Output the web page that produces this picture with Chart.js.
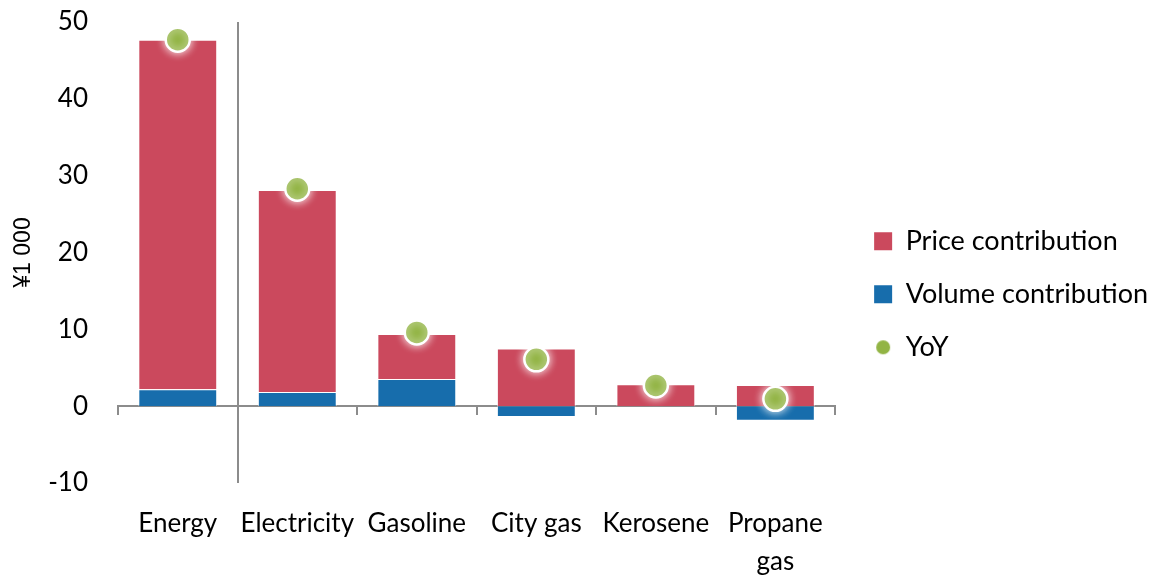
<!DOCTYPE html>
<html><head><meta charset="utf-8">
<script src="https://cdn.jsdelivr.net/npm/chart.js@4.4.1/dist/chart.umd.min.js"></script>
<style>html,body{margin:0;padding:0;background:#fff}#wrap{width:1158px;height:579px;position:relative}</style>
</head><body><div id="wrap"><canvas id="c"></canvas></div>
<script>
const categories = ['Energy', 'Electricity', 'Gasoline', 'City gas', 'Kerosene', ['Propane', 'gas']];
const volumeContribution = [2.2, 1.85, 3.55, -1.4, 0, -1.9];
const priceContribution = [45.5, 26.3, 5.85, 7.5, 2.86, 2.75];
const yoy = [47.7, 28.3, 9.6, 6.1, 2.7, 0.95];
const yTicks = [-10, 0, 10, 20, 30, 40, 50];
const seriesNames = ['Volume contribution', 'Price contribution', 'YoY'];
const legendOrder = [1, 0, 2];
const yTitle = '¥1 000';

const RED = 'rgb(203,73,93)', BLUE = 'rgb(23,109,172)', GREEN = 'rgb(146,180,68)', GREY = '#8c8c8c';
const FAMILY = 'Lato, "Open Sans", sans-serif';

Chart.defaults.font.family = FAMILY;
Chart.defaults.font.size = 26;
Chart.defaults.color = '#000';

const dot = document.createElement('canvas');
dot.width = 16; dot.height = 16;
{ const g = dot.getContext('2d'); g.fillStyle = GREEN; g.beginPath(); g.arc(8, 8, 7, 0, Math.PI * 2); g.fill(); }

const separator = {
  id: 'separator',
  beforeDatasetsDraw(chart) {
    const x = chart.scales.x, y = chart.scales.y, ctx = chart.ctx;
    const px = Math.round((x.getPixelForValue(0) + x.getPixelForValue(1)) / 2);
    ctx.save();
    ctx.strokeStyle = GREY; ctx.lineWidth = 2;
    ctx.beginPath(); ctx.moveTo(px, y.top); ctx.lineTo(px, y.bottom); ctx.stroke();
    ctx.restore();
  }
};
const axisTitle = {
  id: 'axisTitle',
  afterDraw(chart) {
    const y = chart.scales.y, ctx = chart.ctx;
    ctx.save();
    ctx.translate(24, y.getPixelForValue(20));
    ctx.rotate(-Math.PI / 2);
    ctx.font = '23px "Liberation Sans", Arial, sans-serif';
    ctx.fillStyle = '#000'; ctx.textAlign = 'center'; ctx.textBaseline = 'middle';
    ctx.fillText(yTitle, 0, 0);
    ctx.restore();
  }
};
const glow = {
  id: 'glow',
  beforeDatasetDraw(chart, args) {
    if (args.index === 2) { chart.ctx.save(); chart.ctx.shadowColor = 'rgba(255,255,255,0.95)'; chart.ctx.shadowBlur = 8; }
  },
  afterDatasetDraw(chart, args) {
    if (args.index === 2) chart.ctx.restore();
  }
};

new Chart(document.getElementById('c'), {
  data: {
    labels: categories,
    datasets: [
      { type: 'bar', label: seriesNames[0], data: volumeContribution, backgroundColor: BLUE, borderColor: 'rgba(255,255,255,0.6)', borderWidth: 1, categoryPercentage: 1, barPercentage: 0.66 },
      { type: 'bar', label: seriesNames[1], data: priceContribution, backgroundColor: RED, borderColor: 'rgba(255,255,255,0.6)', borderWidth: 1, categoryPercentage: 1, barPercentage: 0.66 },
      { type: 'line', label: seriesNames[2], data: yoy, showLine: false, pointRadius: 12, pointHoverRadius: 12, backgroundColor: GREEN, borderColor: '#fff', borderWidth: 2.5, pointBorderWidth: 2.5, order: -1 }
    ]
  },
  options: {
    responsive: true, maintainAspectRatio: false, animation: false,
    layout: { padding: { top: 0, left: 0, right: 0, bottom: 0 } },
    plugins: {
      tooltip: { enabled: false },
      legend: {
        position: 'right', maxWidth: 340,
        title: { display: true, text: '', font: { size: 8 }, padding: 0 },
        labels: {
          font: { size: 27, family: FAMILY }, color: '#000', padding: 26, boxWidth: 18, boxHeight: 18, usePointStyle: true,
          generateLabels(chart) {
            const items = Chart.defaults.plugins.legend.labels.generateLabels(chart);
            items.forEach(it => { it.pointStyle = it.datasetIndex === 2 ? dot : 'rect'; it.lineWidth = 0; it.strokeStyle = 'rgba(0,0,0,0)'; });
            return items.sort((a, b) => legendOrder.indexOf(a.datasetIndex) - legendOrder.indexOf(b.datasetIndex));
          }
        }
      }
    },
    scales: {
      x: {
        type: 'category', offset: true, stacked: true,
        grid: { display: false, drawTicks: false }, border: { display: false },
        ticks: { font: { size: 26, family: FAMILY, lineHeight: 1.46 }, padding: 22, maxRotation: 0, autoSkip: false },
        afterFit(s) { s.height = 96; s.paddingLeft = 0; s.paddingRight = 0; }
      },
      x2: {
        type: 'category', position: { y: 0 }, offset: true,
        grid: { display: true, offset: true, drawOnChartArea: false, drawTicks: true, tickLength: 8, color: GREY, lineWidth: 2 },
        border: { display: true, color: GREY, width: 2 },
        ticks: { display: false },
        afterFit(s) { s.height = 0; s.paddingLeft = 0; s.paddingRight = 0; }
      },
      y: {
        stacked: true, min: -10, max: 50,
        afterBuildTicks(s) { s.ticks = yTicks.map(v => ({ value: v })); },
        grid: { display: false, drawTicks: false }, border: { display: false },
        ticks: { font: { size: 26, family: FAMILY }, padding: 30 },
        afterFit(s) { s.width = 118; s.paddingTop = 22; s.paddingBottom = 14; }
      },
      gap: {
        type: 'linear', position: 'right', display: true,
        grid: { display: false, drawTicks: false }, border: { display: false },
        ticks: { display: false },
        afterFit(s) { s.width = 13; s.paddingTop = 0; s.paddingBottom = 0; }
      }
    }
  },
  plugins: [separator, glow, axisTitle]
});
</script></body></html>
